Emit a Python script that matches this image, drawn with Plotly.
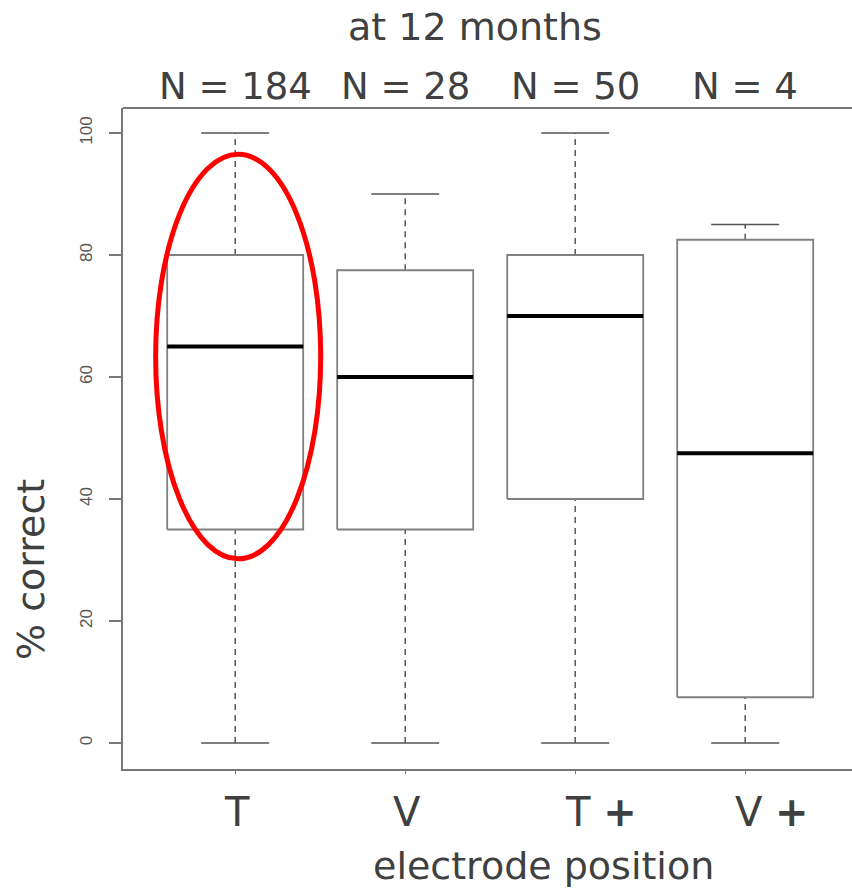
import plotly.graph_objects as go

# ---- data ----
categories = ["T", "V", "T +", "V +"]
n_counts = [184, 28, 50, 4]
whisker_low = [0, 0, 0, 0]
q1 = [35, 35, 40, 7.5]
median = [65, 60, 70, 47.5]
q3 = [80, 77.5, 80, 82.5]
whisker_high = [100, 90, 100, 85]
y_ticks = [0, 20, 40, 60, 80, 100]

TEXT = "#404040"
BOXC = "#808080"
AXC = "#777777"
FONT = "DejaVu Sans"

fig = go.Figure()
pos = list(range(1, len(categories) + 1))
bw = 0.4   # half box width
cw = 0.2   # half cap width

for i, p in enumerate(pos):
    # whiskers (dashed)
    for a, b in ((q3[i], whisker_high[i]), (whisker_low[i], q1[i])):
        fig.add_trace(go.Scatter(x=[p, p], y=[a, b], mode="lines",
                                 line=dict(color="#555555", width=1.5, dash="6px,5px"),
                                 hoverinfo="skip", showlegend=False))
    # caps
    for v in (whisker_low[i], whisker_high[i]):
        fig.add_trace(go.Scatter(x=[p - cw, p + cw], y=[v, v], mode="lines",
                                 line=dict(color="#555555", width=1.5),
                                 hoverinfo="skip", showlegend=False))
    # box
    fig.add_trace(go.Scatter(x=[p - bw, p + bw, p + bw, p - bw, p - bw],
                             y=[q1[i], q1[i], q3[i], q3[i], q1[i]], mode="lines",
                             line=dict(color=BOXC, width=1.8),
                             hoverinfo="skip", showlegend=False))
    # median
    fig.add_trace(go.Scatter(x=[p - bw, p + bw], y=[median[i], median[i]], mode="lines",
                             line=dict(color="black", width=3.8),
                             hoverinfo="skip", showlegend=False))

# red ellipse around first box
fig.add_shape(type="circle", xref="x", yref="y", x0=0.532, x1=1.503, y0=30.2, y1=96.5,
              line=dict(color="#ff0000", width=5))

# top frame line
fig.add_shape(type="line", xref="paper", yref="paper", x0=0, x1=1, y0=1, y1=1,
              line=dict(color=AXC, width=2))

W, H = 852, 892
L, R, T, B = 123, 0, 108, 123
pw, ph = W - L - R, H - T - B


def px_to_paper(xp, yp):
    return (xp - L) / pw, (H - B - yp) / ph


annotations = []
# N labels
for p, n in zip(pos, n_counts):
    annotations.append(dict(x=p, y=1, xref="x", yref="paper", xanchor="center",
                            yanchor="bottom", yshift=-2, text=f"N = {n}", showarrow=False,
                            font=dict(family=FONT, size=37, color=TEXT)))
# category labels
_, ylab = px_to_paper(0, 812)
for p, c in zip(pos, categories):
    if "+" in c:
        base = c.replace("+", "").strip()
        txt = f"{base} <b>+</b>"
        annotations.append(dict(x=p, y=ylab, xref="x", yref="paper", xanchor="left",
                                yanchor="middle", xshift=-12, text=txt, showarrow=False,
                                font=dict(family=FONT, size=40, color=TEXT)))
    else:
        annotations.append(dict(x=p, y=ylab, xref="x", yref="paper", xanchor="center",
                                yanchor="middle", xshift=2, text=c, showarrow=False,
                                font=dict(family=FONT, size=40, color=TEXT)))
# title
ax, ay = px_to_paper(475, 27)
annotations.append(dict(x=ax, y=ay, xref="paper", yref="paper", xanchor="center",
                        yanchor="middle", text="at 12 months", showarrow=False,
                        font=dict(family=FONT, size=38, color=TEXT)))
# x title
ax, ay = px_to_paper(543, 866)
annotations.append(dict(x=ax, y=ay, xref="paper", yref="paper", xanchor="center",
                        yanchor="middle", text="electrode position", showarrow=False,
                        font=dict(family=FONT, size=38, color=TEXT)))
# y title
ax, ay = px_to_paper(31, 570)
annotations.append(dict(x=ax, y=ay, xref="paper", yref="paper", xanchor="center",
                        yanchor="middle", text="% correct", textangle=-90, showarrow=False,
                        font=dict(family=FONT, size=38, color=TEXT)))

fig.update_layout(
    width=W, height=H,
    margin=dict(l=L, r=R, t=T, b=B, pad=0),
    plot_bgcolor="white", paper_bgcolor="white",
    annotations=annotations,
    xaxis=dict(range=[0.34, 0.34 + pw / 170.0], showgrid=False, zeroline=False,
               showline=True, linecolor=AXC, linewidth=2,
               tickvals=pos, ticktext=[""] * len(pos), ticks="outside", ticklen=3,
               tickcolor=AXC, tickwidth=1),
    yaxis=dict(range=[-4.26, 104.1], showgrid=False, zeroline=False,
               showline=True, linecolor=AXC, linewidth=2,
               tickvals=y_ticks, ticktext=[str(v) for v in y_ticks],
               ticks="outside", ticklen=12, tickcolor=AXC, tickwidth=1.5,
               ticklabelstandoff=10,
               tickangle=-90, tickfont=dict(family="Liberation Sans", size=17, color="#555555")),
)

fig.write_html("out.html", config={"displayModeBar": False},
               post_script="document.body.style.margin='0px';document.body.style.padding='0px';")
